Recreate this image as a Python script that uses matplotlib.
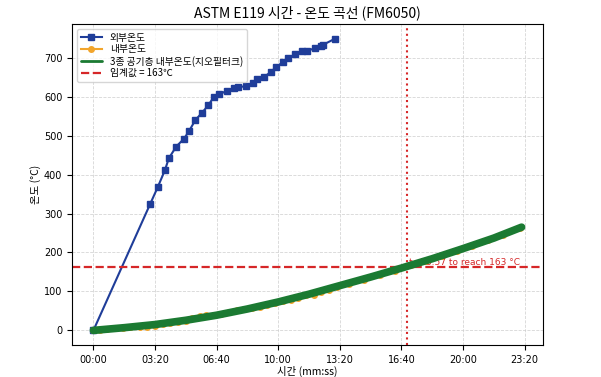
import matplotlib
matplotlib.use("Agg")
import matplotlib.pyplot as plt
from matplotlib.ticker import FuncFormatter, MultipleLocator

KR = ["Noto Sans CJK KR", "DejaVu Sans"]

# 외부온도 (seconds, °C)
outer_t = [0, 184, 209, 232, 245, 269, 294, 310, 331, 353, 373, 390, 409, 433, 456,
           470, 494, 517, 531, 555, 577, 592, 614, 633, 653, 676, 694, 719, 738, 745, 785]
outer_v = [0, 324, 368, 411, 442, 472, 492, 511, 540, 559, 578, 598, 606, 615, 621,
           624, 627, 636, 646, 651, 664, 675, 688, 698, 709, 716, 718, 724, 729, 733, 749]

# 내부온도 (measured)
inner_t = [0, 20, 45, 70, 95, 120, 150, 175, 200, 225, 250, 275, 300, 320, 345, 365,
           390, 415, 440, 465, 490, 515, 540, 565, 590, 615, 640, 665, 690, 715, 740,
           765, 790, 830, 880, 930, 980, 1030, 1080, 1130, 1180, 1230, 1280, 1330, 1385]
inner_v = [1, 1, 3, 5, 6, 8, 10, 9, 12, 16, 18, 21, 25, 31, 37, 39, 40, 42, 46, 52, 55,
           57, 61, 66, 70, 75, 79, 84, 90, 92, 98, 104, 112, 119, 130, 143, 152, 168,
           179, 191, 203, 217, 231, 245, 264]

# 3종 공기층 내부온도(지오필터크)
geo_t = [0, 100, 200, 300, 400, 500, 600, 700, 800, 900, 1000, 1100, 1200, 1300, 1390]
geo_v = [0, 7, 15, 26, 39, 55, 73, 93, 115, 137, 160, 184, 210, 237, 265]

threshold = 163
reach_t = 1017
reach_label = "t≈16:57 to reach 163 °C"


def mmss(x, pos):
    x = int(round(x))
    return f"{x // 60:02d}:{x % 60:02d}"


fig = plt.figure(figsize=(6.01, 3.77), dpi=100)
ax = fig.add_axes([0.1198, 0.0849, 0.7837, 0.8514])

ax.plot(outer_t, outer_v, color="#1f3d99", marker="s", ms=4, lw=1.5, label="외부온도")
ax.plot(inner_t, inner_v, color="#f2a52c", marker="o", ms=4, lw=1.5, label="내부온도")
ax.plot(geo_t, geo_v, color="#1b7a32", lw=5.5, solid_capstyle="round",
        label="3종 공기층 내부온도(지오필터크)", zorder=4)
ax.axhline(threshold, color="#d62728", ls="--", lw=1.6, label=f"임계값 = {threshold}℃")
ax.axvline(reach_t, color="#d62728", ls=":", lw=1.5)
ax.text(reach_t + 8, threshold, reach_label, color="#d62728", fontsize=6.5,
        va="bottom", zorder=3)

ax.xaxis.set_major_locator(MultipleLocator(200))
ax.xaxis.set_major_formatter(FuncFormatter(mmss))
ax.tick_params(labelsize=7)
ax.grid(True, ls="--", color="#cccccc", lw=0.6, alpha=0.8)

ax.set_title("ASTM E119 시간 - 온도 곡선 (FM6050)", family=KR, fontsize=10, pad=5)
ax.set_xlabel("시간 (mm:ss)", family=KR, fontsize=7.5, labelpad=1)
ax.set_ylabel("온도 (°C)", family=KR, fontsize=7.5, labelpad=2)

leg = ax.legend(loc="upper left", prop={"family": KR, "size": 7}, handlelength=2.2,
                labelspacing=0.15, borderpad=0.4)
leg.get_lines()[2].set_linewidth(2)

fig.savefig("out.png", dpi=100)
